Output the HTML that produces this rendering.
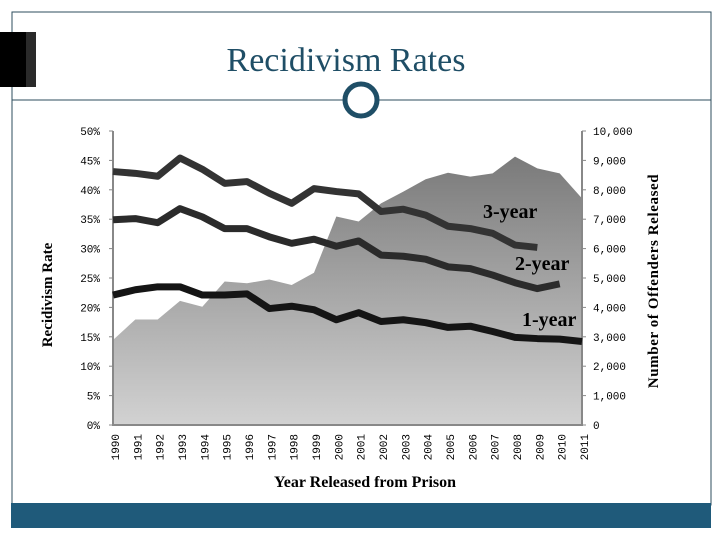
<!DOCTYPE html>
<html><head><meta charset="utf-8"><style>
body{margin:0;width:720px;height:540px;background:#fff;overflow:hidden;font-family:"Liberation Serif",serif}
</style></head><body>
<svg id="c" width="720" height="540" xmlns="http://www.w3.org/2000/svg">
<defs><linearGradient id="g" x1="0" y1="0" x2="0" y2="1"><stop offset="0" stop-color="#7a7a7a"/><stop offset="1" stop-color="#d2d2d2"/></linearGradient></defs>
<rect x="12" y="12" width="699" height="493" fill="none" stroke="#2d4d5e" stroke-width="1"/>
<rect x="0" y="32" width="26" height="55" fill="#000"/>
<rect x="26" y="32" width="10" height="55" fill="#2a2a2a"/>
<line x1="12" y1="100" x2="711" y2="100" stroke="#2d4d5e" stroke-width="1"/>
<circle cx="361" cy="100" r="16" fill="#fff" stroke="#1f4e66" stroke-width="5"/>
<text x="346" y="71" font-size="34" fill="#1f4e66" text-anchor="middle" font-family="Liberation Serif,serif">Recidivism Rates</text>
<rect x="11" y="503" width="700" height="25" fill="#1f5a7a"/>
<g id="plot"></g>
<text transform="translate(52,295) rotate(-90)" font-size="15" font-weight="bold" text-anchor="middle">Recidivism Rate</text>
<text transform="translate(658,281) rotate(-90)" font-size="15" font-weight="bold" text-anchor="middle" letter-spacing="0.6">Number of Offenders Released</text>
<text x="365" y="487" font-size="16" font-weight="bold" text-anchor="middle">Year Released from Prison</text>
</svg>
<script>
const years=[1990,1991,1992,1993,1994,1995,1996,1997,1998,1999,2000,2001,2002,2003,2004,2005,2006,2007,2008,2009,2010,2011];
const released=[2890,3590,3590,4220,4020,4880,4820,4950,4760,5180,7090,6920,7540,7940,8360,8580,8450,8560,9130,8730,8560,7710];
const rate3=[43.1,42.8,42.3,45.4,43.5,41.1,41.4,39.4,37.7,40.2,39.7,39.3,36.3,36.7,35.7,33.8,33.4,32.6,30.6,30.2];
const rate2=[34.9,35.1,34.4,36.8,35.4,33.4,33.4,32.0,30.9,31.6,30.4,31.3,28.9,28.7,28.2,26.9,26.6,25.5,24.2,23.2,24.0];
const rate1=[22.1,23.0,23.5,23.5,22.1,22.1,22.3,19.8,20.2,19.6,17.9,19.1,17.6,17.9,17.4,16.6,16.8,15.9,14.9,14.7,14.6,14.2];
const pctTicks=[0,5,10,15,20,25,30,35,40,45,50];
const cntTicks=["0","1,000","2,000","3,000","4,000","5,000","6,000","7,000","8,000","9,000","10,000"];
const X0=113,X1=582,Y0=425,Y1=131;
const x=i=>X0+(X1-X0)*i/(years.length-1);
const yP=v=>Y0-(Y0-Y1)*v/50;
const yC=v=>Y0-(Y0-Y1)*v/10000;
const NS="http://www.w3.org/2000/svg",g=document.getElementById('plot');
function mk(t,a){const e=document.createElementNS(NS,t);for(const k in a)e.setAttribute(k,a[k]);g.appendChild(e);return e;}
let d=`M${x(0)},${Y0}`;released.forEach((v,i)=>d+=` L${x(i)},${yC(v)}`);d+=` L${x(released.length-1)},${Y0} Z`;
const area=mk('path',{d:d,fill:'url(#g)'});


const ax=mk('path',{d:`M${X0},${Y1} V${Y0} H${X1} V${Y1}`,fill:'none',stroke:'#888','stroke-width':2});


pctTicks.forEach((v,i)=>{
 mk('line',{x1:X0-4,x2:X0,y1:yP(v),y2:yP(v),stroke:'#888'});
 mk('line',{x1:X1,x2:X1+4,y1:yP(v),y2:yP(v),stroke:'#888'});
 const t=mk('text',{x:100,y:yP(v)+4,'font-size':11,'text-anchor':'end','font-family':'Liberation Mono,monospace'});t.textContent=v+'%';
 
 
 const t2=mk('text',{x:593,y:yP(v)+4,'font-size':11,'font-family':'Liberation Mono,monospace'});t2.textContent=cntTicks[i];
 
 
});
years.forEach((yr,i)=>{
 const t=mk('text',{transform:`translate(${x(i)+6},434) rotate(-90)`,'font-size':11,'text-anchor':'end','font-family':'Liberation Mono,monospace'});t.textContent=yr;
 
 
});
function line(arr,col,name){const p=mk('polyline',{points:arr.map((v,i)=>x(i)+','+yP(v)).join(' '),fill:'none',stroke:col,'stroke-width':7,'stroke-linejoin':'round'});
 
 }
line(rate3,'#333','line-3-year');line(rate2,'#2b2b2b','line-2-year');line(rate1,'#151515','line-1-year');
[['3-year',483,218],['2-year',515,270],['1-year',522,326]].forEach(l=>{const t=mk('text',{x:l[1],y:l[2],'font-size':20,'font-weight':'bold'});t.textContent=l[0];
 
 });
</script>
</body></html>
